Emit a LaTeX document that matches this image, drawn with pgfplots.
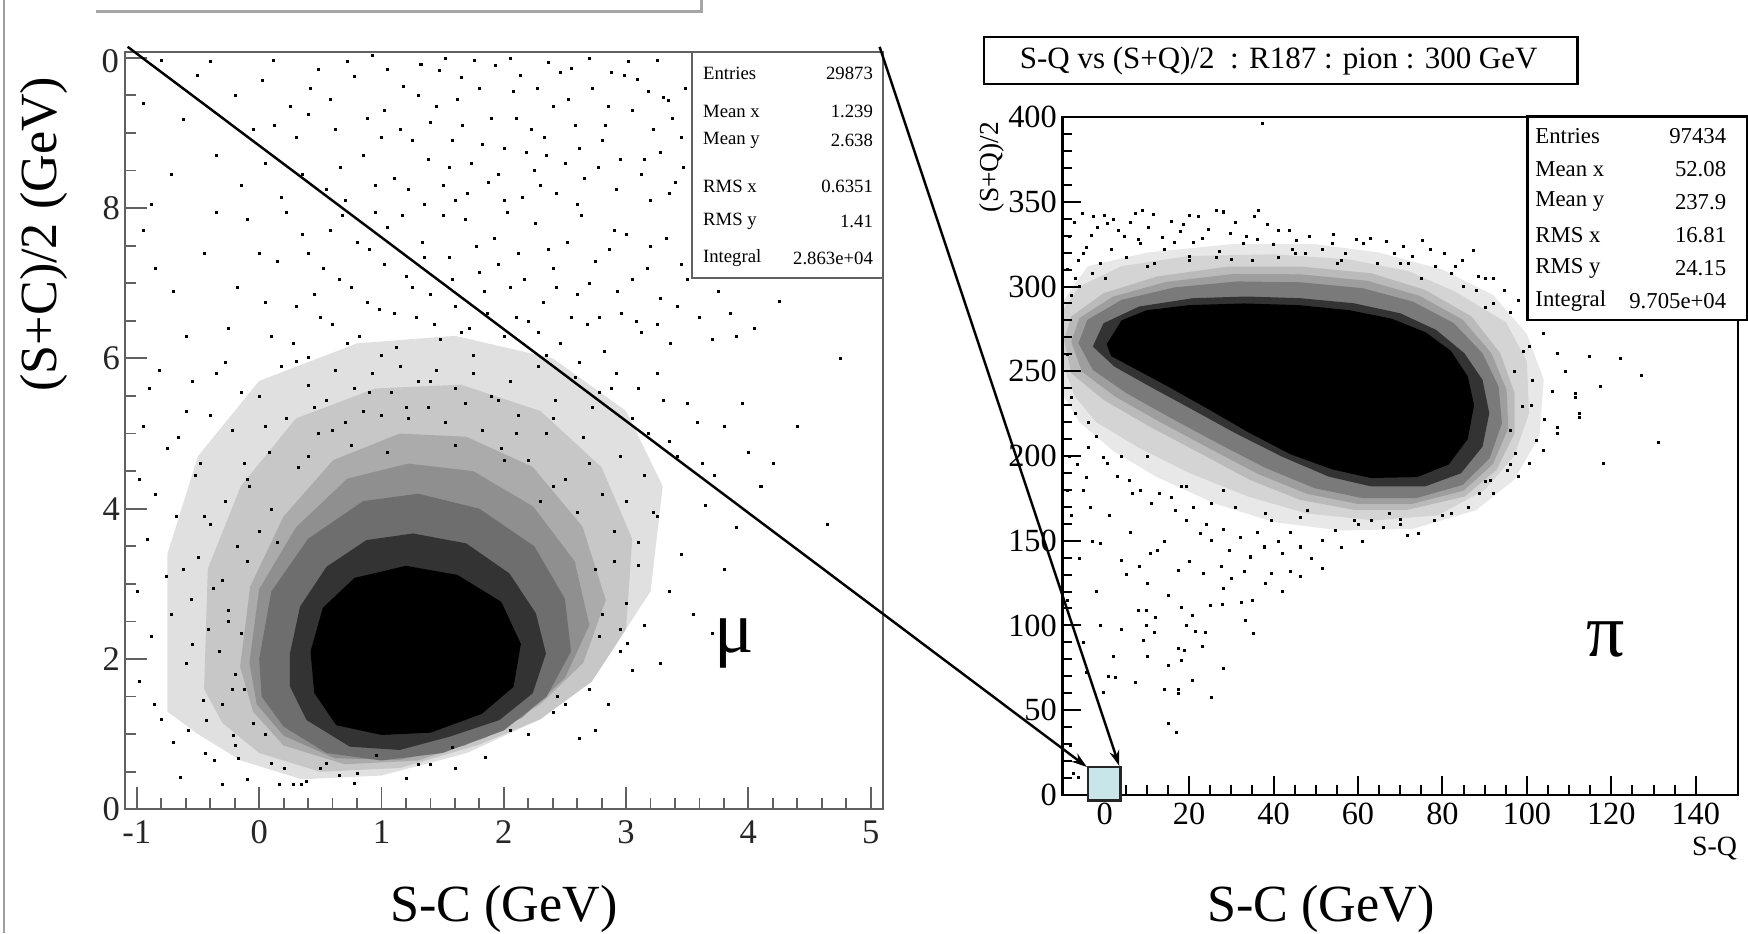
\documentclass[border=0pt]{standalone}
\usepackage{fontspec}
\setmainfont{Liberation Serif}
\usepackage{pgfplots}
\pgfplotsset{compat=1.18}
\usetikzlibrary{arrows.meta}
\definecolor{framegray}{gray}{0.38}
\definecolor{zoomcyan}{RGB}{200,230,234}
\newcommand{\fs}[1]{\fontsize{#1}{#1}\selectfont}
\begin{document}
\begin{tikzpicture}
\useasboundingbox (0,0) rectangle (784pt,418.5pt);
% ---------------- left plot (mu) ----------------
\begin{axis}[at={(55.9pt,55.5pt)}, anchor=south west, scale only axis,
  width=340.1pt, height=339.8pt,
  xmin=-1.1, xmax=5.1, ymin=0, ymax=10.08,
  xtick={-1,0,1,2,3,4,5}, xticklabels={-1,0,1,2,3,4,5},
  ytick={0,2,4,6,8,10}, yticklabels={0,2,4,6,8,{}},
  minor x tick num=4, minor y tick num=3,
  tick align=inside, xtick pos=left, ytick pos=left,
  major tick length=10pt, minor tick length=5pt,
  axis line style={framegray, line width=0.9pt},
  every tick/.style={framegray, line width=0.8pt},
  tick label style={font=\fs{15.5}, text=black!85},
  xticklabel style={yshift=-1.5pt}, yticklabel style={xshift=1.4pt},
  /pgf/number format/assume math mode=true,
  axis on top]
\addplot[fill=black!12, draw=none] coordinates {(-0.75,1.3)(-0.75,3.4)(-0.5,4.7)(0.0,5.7)(0.8,6.2)(1.6,6.3)(2.4,6.0)(3.0,5.3)(3.3,4.3)(3.2,2.9)(2.8,1.9)(2.3,1.2)(1.7,0.75)(1.0,0.45)(0.35,0.4)(-0.15,0.65)(-0.5,1.0)} -- cycle;
\addplot[fill=black!22, draw=none] coordinates {(-0.45,1.6)(-0.42,3.2)(-0.15,4.3)(0.3,5.2)(0.95,5.6)(1.65,5.65)(2.3,5.3)(2.8,4.55)(3.05,3.6)(3.0,2.4)(2.72,1.7)(2.3,1.2)(1.78,0.85)(1.15,0.55)(0.5,0.5)(0.0,0.75)(-0.3,1.15)} -- cycle;
\addplot[fill=black!33, draw=none] coordinates {(-0.156,1.898)(-0.074,2.962)(0.198,3.893)(0.605,4.646)(1.149,5.0)(1.693,4.957)(2.236,4.557)(2.644,3.76)(2.834,2.784)(2.65,1.95)(2.3,1.4)(1.85,0.95)(1.3,0.65)(0.7,0.6)(0.2,0.85)(-0.05,1.3)} -- cycle;
\addplot[fill=black!44, draw=none] coordinates {(-0.08,1.95)(0.0,2.93)(0.3,3.75)(0.72,4.4)(1.22,4.6)(1.75,4.5)(2.24,4.03)(2.58,3.3)(2.7,2.45)(2.5,1.75)(2.15,1.22)(1.68,0.85)(1.15,0.66)(0.62,0.68)(0.2,0.98)(-0.02,1.4)} -- cycle;
\addplot[fill=black!57, draw=none] coordinates {(0.0,2.0)(0.1,2.9)(0.4,3.6)(0.85,4.1)(1.3,4.2)(1.8,4.0)(2.25,3.5)(2.5,2.8)(2.55,2.1)(2.35,1.5)(2.0,1.05)(1.5,0.75)(1.0,0.65)(0.55,0.75)(0.2,1.1)(0.02,1.5)} -- cycle;
\addplot[fill=black!80, draw=none] coordinates {(0.252,2.075)(0.334,2.696)(0.551,3.228)(0.877,3.582)(1.258,3.671)(1.693,3.538)(2.046,3.139)(2.263,2.607)(2.345,2.075)(2.236,1.543)(1.964,1.188)(1.557,0.967)(1.149,0.79)(0.741,0.834)(0.388,1.188)(0.252,1.632)} -- cycle;
\addplot[fill=black, draw=none] coordinates {(0.42,2.1)(0.52,2.68)(0.78,3.08)(1.2,3.24)(1.62,3.12)(1.98,2.76)(2.14,2.2)(2.08,1.63)(1.82,1.27)(1.4,1.02)(1.0,0.99)(0.63,1.12)(0.45,1.55)} -- cycle;
\addplot[only marks, mark=square*, mark size=0.45pt, mark options={line width=0.1pt}] coordinates {
(-0.80,9.97)(-0.51,9.77)(-0.62,9.18)(-0.35,8.70)(-0.88,8.05)(0.11,9.97)(0.25,9.35)(0.42,9.60)(0.05,8.60)(0.30,8.95)
(0.55,8.25)(0.62,9.05)(0.78,9.75)(0.92,10.03)(0.85,8.70)(1.02,9.30)(1.10,8.40)(1.18,9.62)(1.32,9.92)(1.25,8.90)
(1.40,9.15)(1.47,9.83)(1.55,8.55)(1.62,9.45)(1.65,9.74)(1.70,8.20)(1.76,9.97)(1.82,8.85)(1.90,9.20)(1.95,8.45)
(2.05,10.00)(2.08,9.55)(2.13,9.77)(2.18,8.75)(2.22,9.05)(2.30,8.30)(2.36,9.94)(2.40,9.35)(2.46,9.81)(2.50,8.60)
(2.55,9.86)(2.58,9.10)(2.66,8.40)(2.72,9.60)(2.80,8.90)(2.88,9.81)(2.92,8.25)(2.98,9.77)(3.05,9.30)(3.09,9.72)
(3.15,8.65)(3.22,9.05)(3.25,9.97)(3.30,9.48)(3.34,9.43)(3.40,8.35)(3.45,8.95)(3.48,9.60)(0.18,8.15)(0.70,8.10)
(1.35,8.05)(2.00,8.10)(2.60,8.05)(3.20,8.10)(-0.20,9.50)(-0.05,9.05)(0.48,9.85)(1.00,8.95)(1.50,8.30)(2.25,8.50)
(2.85,9.35)(3.35,8.20)
(-0.95,9.40)(-0.72,8.45)(-0.40,9.95)(-0.15,8.30)(0.02,9.70)(0.12,9.10)(0.35,8.45)(0.58,9.45)(0.66,8.55)(0.72,9.95)
(0.88,9.20)(0.95,8.30)(1.05,9.85)(1.15,9.05)(1.22,8.25)(1.30,9.50)(1.38,8.65)(1.45,9.35)(1.52,10.0)(1.58,8.90)
(1.66,9.10)(1.73,8.60)(1.80,9.60)(1.87,8.35)(1.93,9.90)(2.00,8.80)(2.10,9.20)(2.15,8.15)(2.27,9.60)(2.33,8.95)
(2.43,8.20)(2.53,9.45)(2.62,8.80)(2.70,10.0)(2.77,8.55)(2.83,9.10)(2.95,8.65)(3.02,9.95)(3.12,8.45)(3.18,9.55)
(3.28,8.75)(3.38,9.20)(3.47,8.55)(0.40,9.25)(1.60,8.10)(2.35,8.70)
(-0.95,7.70)(-0.70,6.90)(-0.45,7.40)(-0.25,6.40)(-0.10,7.85)(0.05,6.75)(0.15,7.30)(0.28,6.20)(0.35,7.65)(0.45,6.85)
(0.52,7.20)(0.60,6.45)(0.68,7.90)(0.75,6.95)(0.82,6.30)(0.90,7.45)(0.98,6.65)(1.05,7.75)(1.12,6.15)(1.20,7.10)
(1.28,6.55)(1.33,7.55)(1.40,6.85)(1.48,6.25)(1.55,7.35)(1.60,6.70)(1.68,7.85)(1.72,6.40)(1.80,7.15)(1.86,6.60)
(1.92,7.60)(2.00,6.30)(2.05,6.95)(2.12,7.40)(2.20,6.50)(2.26,7.80)(2.32,6.75)(2.40,7.20)(2.46,6.20)(2.52,7.55)
(2.60,6.85)(2.68,6.45)(2.75,7.30)(2.82,6.10)(2.90,7.70)(2.96,6.60)(3.05,7.05)(3.12,6.35)(3.20,7.50)(3.28,6.80)
(3.36,6.20)(3.45,7.25)(3.60,6.55)(3.75,6.90)(3.90,6.30)(4.25,6.76)(4.75,6.00)(1.00,6.05)(1.75,6.05)(0.40,6.02)(2.35,6.05)
(-0.85,7.20)(-0.60,6.30)(-0.35,7.95)(-0.18,6.95)(0.00,7.40)(0.10,6.30)(0.22,7.95)(0.30,6.70)(0.40,7.40)(0.50,6.55)
(0.58,7.70)(0.65,7.05)(0.72,6.20)(0.80,7.55)(0.88,6.75)(0.95,7.95)(1.02,7.25)(1.10,6.60)(1.17,7.90)(1.25,6.95)
(1.35,7.35)(1.43,6.45)(1.50,7.90)(1.58,7.05)(1.65,6.35)(1.77,7.50)(1.84,6.90)(1.95,7.25)(2.03,7.95)(2.10,6.55)
(2.17,7.05)(2.28,6.35)(2.36,7.45)(2.43,6.95)(2.55,6.55)(2.63,7.90)(2.70,7.00)(2.78,6.55)(2.86,7.45)(2.93,6.90)
(3.00,7.65)(3.08,6.50)(3.17,7.20)(3.25,6.45)(3.33,7.60)(3.42,6.70)(3.50,7.05)(3.70,6.25)(3.85,6.60)(4.05,6.40)
(-0.90,5.60)(-0.75,4.80)(-0.60,5.30)(-0.48,4.60)(-0.35,5.80)(-0.22,5.05)(-0.10,4.40)(0.00,5.50)(0.08,4.75)(0.18,5.90)
(0.22,5.20)(0.32,4.55)(0.40,5.65)(0.48,5.00)(0.55,5.45)(0.62,5.85)(0.70,5.15)(0.78,5.60)(0.85,5.30)(0.92,5.80)
(1.00,5.25)(1.08,5.55)(1.15,5.90)(1.22,5.20)(1.30,5.70)(1.38,5.35)(1.45,5.85)(1.52,5.15)(1.60,5.60)(1.68,5.40)
(1.75,5.80)(1.82,5.05)(1.90,5.50)(1.98,4.80)(2.05,5.70)(2.12,5.25)(2.20,4.65)(2.28,5.90)(2.35,5.00)(2.42,5.45)
(2.50,4.40)(2.58,5.75)(2.65,4.95)(2.72,5.35)(2.80,4.20)(2.88,5.60)(2.95,4.70)(3.05,5.20)(3.15,4.45)(3.25,5.80)
(3.35,4.90)(3.50,5.40)(3.62,4.60)(3.80,5.10)(4.00,4.75)(4.64,3.80)(3.25,3.90)
(-0.98,4.40)(-0.82,5.85)(-0.66,4.95)(-0.55,5.70)(-0.40,5.25)(-0.28,5.95)(-0.15,5.55)(0.30,5.97)(2.62,5.95)(2.78,5.55)
(2.92,5.80)(3.10,5.60)(3.18,5.00)(3.30,5.45)(3.42,4.70)(3.58,5.15)(3.72,4.45)(3.95,5.40)(4.20,4.60)(4.40,5.10)
(-0.55,2.20)(-0.62,3.20)(-0.45,3.90)(-0.30,1.40)(-0.38,2.95)(-0.12,4.60)(0.05,5.10)(0.45,5.35)(0.90,5.55)(1.40,5.70)
(1.95,5.45)(2.40,5.20)(2.70,4.60)(3.00,4.10)(3.10,3.25)(2.95,2.40)(2.70,1.60)(2.20,1.00)(1.60,0.55)(0.80,0.48)
(0.20,0.55)(-0.20,1.80)(0.60,5.05)(1.20,5.35)(2.10,5.00)(2.90,3.70)
(-0.25,2.50)(-0.10,3.30)(0.10,4.00)(0.40,4.70)(0.75,4.85)(1.05,4.75)(1.60,4.85)(2.00,4.65)(2.40,4.30)(2.60,3.95)
(2.75,3.20)(2.78,2.30)(2.50,1.40)(2.05,1.05)(1.30,0.60)(0.55,0.62)(0.05,1.00)(-0.12,1.60)(0.15,3.55)(2.30,4.10)
(-1.00,2.90)(-0.98,1.70)(-0.92,3.60)(-0.88,2.30)(-0.85,4.20)(-0.80,1.20)(-0.76,3.10)(-0.72,2.60)(-0.68,3.90)(-0.65,0.43)
(-0.60,1.95)(-0.56,2.80)(-0.52,4.45)(-0.50,3.35)(-0.46,1.45)(-0.42,2.40)(-0.40,3.80)(-0.43,1.19)(-0.33,2.10)(-0.30,3.05)
(-0.28,4.10)(-0.25,2.65)(-0.22,1.60)(-0.20,0.85)(-0.18,3.50)(-0.15,2.35)(-0.30,0.33)(-0.08,4.30)(-0.05,1.15)(0.00,3.70)
(-0.95,5.10)(-0.70,0.90)(-0.86,1.40)(-0.58,1.05)(-0.44,0.75)(-0.10,0.40)
(0.16,0.33)(0.28,0.33)(0.34,0.34)(0.38,0.38)(0.78,0.35)(0.96,0.72)(1.58,0.83)(0.50,0.55)(0.10,0.62)(0.65,0.45)
(1.20,0.42)(1.40,0.60)(1.85,0.70)(-0.21,0.99)(-0.37,0.66)(-0.17,0.68)
(2.85,1.40)(2.95,2.10)(3.00,2.75)(3.05,1.85)(2.90,3.30)(3.10,3.55)(3.15,2.45)(3.22,3.95)(3.28,1.95)(3.35,2.90)
(3.45,3.40)(3.55,2.60)(3.65,4.05)(3.80,3.20)(2.75,1.05)(2.62,0.95)(2.44,1.50)(2.40,1.30)(3.70,2.35)(3.01,2.21)
(2.80,2.60)(3.90,3.75)(4.10,4.30)};
\end{axis}
% ---------------- right plot (pi) ----------------
\begin{axis}[at={(476.5pt,62pt)}, anchor=south west, scale only axis,
  width=303pt, height=304pt,
  xmin=-10, xmax=150, ymin=0, ymax=400,
  xtick={0,20,40,60,80,100,120,140}, xticklabels={0,20,40,60,80,100,120,140},
  ytick={0,50,100,150,200,250,300,350,400}, yticklabels={0,50,100,150,200,250,300,350,400},
  minor x tick num=3, minor y tick num=4,
  tick align=inside, xtick pos=left, ytick pos=left,
  major tick length=8.5pt, minor tick length=4.2pt,
  axis line style={black, line width=1.1pt},
  every tick/.style={black, line width=0.9pt},
  tick label style={font=\fs{14.5}},
  yticklabel style={xshift=1pt},
  /pgf/number format/assume math mode=true,
  axis on top]
\addplot[fill=black!9, draw=none] coordinates {(-9.6,235)(-9.6,292)(-4,312)(10,320)(30,325)(50,325)(65,320)(80,310)(92,295)(100,272)(104,245)(103,212)(97,186)(88,168)(73,157)(56,156)(40,161)(26,172)(12,188)(2,203)(-6,220)} -- cycle;
\addplot[fill=black!17, draw=none] coordinates {(-9.6,252)(-9.6,287)(-6,300)(4,312)(20,318)(40,319)(58,316)(72,309)(83,297)(95,279)(100,256)(100.5,225)(97,200)(90,180)(79,165)(64,162)(48,166)(34,176)(20,190)(8,205)(-2,220)(-7,235)} -- cycle;
\addplot[fill=black!27, draw=none] coordinates {(-9.6,268.5)(-7.9,282.3)(-0.27,296.0)(12.4,305.9)(29.4,311.8)(46.3,311.8)(63.2,307.8)(75.9,298.0)(86.9,282.3)(93.7,260.6)(97.1,237.0)(97.1,213.4)(92.8,191.8)(85.2,176.0)(71.7,168.2)(59.0,168.2)(46.3,174.1)(34.4,185.9)(22.6,201.6)(10.7,217.3)(-0.27,233.1)(-7.9,248.8)} -- cycle;
\addplot[fill=black!38, draw=none] coordinates {(-7.9,267.5)(-6,281.3)(1.9,294)(14.5,302.7)(30.5,307.4)(46.3,307.2)(62.2,303.4)(74.5,294.6)(84.8,280.4)(91.6,260.6)(95.2,239)(95.6,216.4)(92,195.3)(85,179.5)(72.8,171.7)(60,171.7)(48,177.6)(36.3,189.4)(24.7,204.6)(13.3,219.8)(2.5,235)(-5.4,249.8)} -- cycle;
\addplot[fill=black!52, draw=none] coordinates {(-6.2,266.5)(-4.1,280.3)(4.0,292.1)(16.6,299.5)(31.5,303.0)(46.3,302.5)(61.1,299.0)(73.0,291.1)(82.7,278.4)(89.5,260.6)(93.3,241.0)(94.1,219.3)(91.2,198.7)(84.8,182.9)(73.8,175.1)(61.1,175.1)(49.7,181.0)(38.2,192.8)(26.8,207.5)(15.8,222.2)(5.2,237.0)(-2.8,250.8)} -- cycle;
\addplot[fill=black!80, draw=none] coordinates {(-2.8,264.6)(-0.27,278.3)(8.2,288.2)(20.9,293.1)(33.6,294.1)(46.3,293.1)(59.0,290.1)(70.0,284.2)(78.5,274.4)(85.2,260.6)(89.5,244.9)(91.1,225.2)(89.5,205.5)(84.4,189.8)(75.9,182.0)(63.2,182.0)(53.1,187.8)(42.0,199.6)(31.0,213.4)(20.9,227.2)(10.7,241.0)(2.27,252.8)} -- cycle;
\addplot[fill=black, draw=none] coordinates {(0.5,266)(4,280)(10,286)(20,289)(33,290)(46,289)(58,286)(68,281)(76,273)(82,262)(86,247)(87.5,230)(86,210)(81.5,195)(74,187.5)(63,187)(54,192)(44,201)(34,214)(25,227)(15,241)(6,253)(1.5,259)} -- cycle;
\addplot[only marks, mark=square*, mark size=0.45pt, mark options={line width=0.1pt}] coordinates {
(37.2,396.3)
(-5.3,343.6)(-2.7,341.3)(-0.06,342.2)(0.5,337.3)(7.3,343.2)(8.9,345.2)(15.8,338.3)(20.0,342.2)(22.2,341.3)(26.4,345.2)
(28.0,344.2)(35.4,341.3)(36.4,345.2)(41.2,333.4)(43.8,333.4)(45.4,327.5)(-3.2,330.4)(3.1,333.4)(8.4,325.5)(13.7,329.4)
(17.9,332.4)(23.2,328.5)(29.6,331.4)(32.7,325.5)(53.9,325.5)(61.3,325.5)(62.9,328.5)(66.6,326.5)(70.8,323.6)(75.1,327.5)
(92.0,304.9)(84.6,315.7)(87.2,321.6)(80.3,319.6)(78.2,311.8)(-4.3,323.5)(-6.4,315.7)(-6.9,304.9)(-1.1,313.7)(5.2,317.6)
(11.6,313.7)(20.0,315.7)(26.4,317.6)(34.9,315.7)(41.2,317.6)(47.5,319.6)(56.0,315.7)(64.5,313.7)(71.9,313.7)
(85,300)(92,290)(96,285)(90,305)(82,308)
(-8.5,330)(-7.2,338)(-1.8,335)(2.0,340)(4.5,330)(6.0,338)(10.2,335)(11.5,343)(14.0,322)(18.5,337)
(21.0,326)(24.5,334)(27.0,321)(31.0,338)(33.5,330)(38.5,337)(39.8,325)(44.5,322)(48.5,330)(51.5,322)
(57.0,320)(59.5,328)(68.5,320)(72.8,318)(77.0,322)(83.0,312)(88.5,306)(94.5,298)(98.0,292)(100,284)
(-8.8,310)(-5.0,320)(-3.0,308)(1.5,322)(8.0,328)(16.5,326)(36.0,328)(54.0,331)
(-8,295)(0,305)(20,318)(45,320)(70,314)(88,298)(99,262)(101,230)(96,195)(80,165)(60,160)(38,166)(18,182)(4,200)(-8,235)
(-6,300)(10,312)(30,316)(55,314)(75,305)(90,288)(97,250)(96,215)(90,185)(70,163)(48,168)(28,180)(10,200)(-4,220)(-9,260)
(103.8,272.4)(100.5,264.6)(107.2,260.6)(114.8,258.7)(111.5,237.0)(117.4,241.0)(112.3,225.2)(107.2,217.3)(107.2,213.4)(103.8,203.6)
(102.1,209.5)(98.8,229.2)(101.3,244.9)(97.1,201.6)(95.4,191.8)(88.6,178.0)(91.2,185.9)(111.4,235.0)(112.4,223.0)(122,258)
(127,248)(131,208)(118,196)
(-8.8,180)(-6.5,195)(-4.0,205)(-2.0,212)(0.5,196)(3.0,188)(8.5,180)(11.0,172)(13.0,178)(21.0,170)
(24.0,160)(28.0,157)(32.0,152)(36.0,155)(41.0,150)(44.0,155)(49.0,140)(56.0,146)(61.0,150)(66.0,158)
(70.0,160)(78.0,162)(82.0,166)(86.0,170)(92.0,178)(98.0,188)(100.5,196)(104.0,222)(106.0,238)(109.0,250)
(20.0,138)(14.0,150)(6.0,155)(1.0,165)(-3.5,170)(33.0,132)(38.0,125)(44.0,132)(25.0,112)(12.0,105)
(4.0,98)(2.0,82)(23.0,88)(28.0,75)(10.0,82)(-1.0,100)(-5.0,90)
(-4.5,187.8)(5.7,185.9)(-0.3,199.6)(6.5,178.0)(15.8,176.0)(16.7,168.2)(19.2,162.3)(22.6,154.4)(25.1,150.5)(29.4,144.6)
(34.4,140.6)(37.8,146.5)(42.0,142.6)(46.3,146.5)(51.4,150.5)(54.7,156.4)(59.0,162.3)(63.2,162.3)(67.4,166.2)(71.7,153.4)
(74.2,154.4)(27.7,134.7)(23.4,130.8)(12.4,144.6)(8.2,134.7)(3.96,138.7)(-1.1,148.5)(10.7,142.6)(17.5,132.8)(39.5,130.8)
(46.3,128.8)(51.4,133.7)(19.2,182.0)(25.1,172.1)(31.0,170.1)(39.5,162.3)(46.3,164.2)
(10,125)(15,118)(28,122)(35,115)(42,120)(5,130)(30,128)
(-8.5,200)(-7,225)(-5,180)(-8,165)(-3,150)(-6,140)(-9,115)(-2,120)
(7.9,109.1)(9.8,109.1)(9.8,100.2)(11.8,96.3)(9.2,91.4)(18.2,111.0)(20.7,106.1)(19.4,100.2)(21.4,96.9)(23.9,96.3)
(27.8,112.6)(32.3,114.0)(33.2,103.2)(35.1,95.7)(17.5,86.5)(18.8,85.5)(18.2,79.6)(15.0,76.6)(20.7,67.8)(14.1,62.3)
(17.5,62.3)(17.5,59.9)(7.3,66.8)(0.86,70.1)(2.4,69.4)(-0.3,60.5)(25.2,57.6)(15.0,42.2)(16.9,36.9)(-7.5,12.7)
(-6.2,10.7)(-8.1,29.4)(-4.3,72.7)};
\end{axis}
% ---------------- annotations (units: reference pixels, y downwards) ----------------
\begin{scope}[x=0.5pt, y=-0.5pt, shift={(0pt,418.5pt)}]
\draw[gray!75, line width=1pt] (3.7,0) -- (3.7,837);
\draw[gray!70, line width=1.2pt] (86,10.5) -- (629,10.5) -- (629,0);
% clipped top tick label of left plot
\begin{scope}
\clip (92,30) rectangle (115,80);
\node[anchor=east, inner sep=0pt, font=\fs{15.5}, text=black!85] at (107,55) {10};
\end{scope}
% left stats box
\draw[fill=white, draw=framegray, line width=0.8pt] (620.5,46.4) rectangle (792,249.6);
\begin{scope}[font=\fs{8.4}]
\node[anchor=west, inner sep=0pt] at (630.3,65.8) {Entries};
\node[anchor=west, inner sep=0pt] at (630.3,100.2) {Mean x};
\node[anchor=west, inner sep=0pt] at (630.3,125.6) {Mean y};
\node[anchor=west, inner sep=0pt] at (630.3,167.5) {RMS x};
\node[anchor=west, inner sep=0pt] at (630.3,198.8) {RMS y};
\node[anchor=west, inner sep=0pt] at (630.3,231.7) {Integral};
\node[anchor=east, inner sep=0pt] at (783.4,65.8) {29873};
\node[anchor=east, inner sep=0pt] at (783.4,100.2) {1.239};
\node[anchor=east, inner sep=0pt] at (783.4,125.6) {2.638};
\node[anchor=east, inner sep=0pt] at (783.4,167.5) {0.6351};
\node[anchor=east, inner sep=0pt] at (783.4,198.8) {1.41};
\node[anchor=east, inner sep=0pt] at (783.4,231.7) {2.863e+04};
\end{scope}
% right title box
\draw[fill=white, line width=1pt] (882.6,33.5) rectangle (1415,75.4);
\node[font=\fs{13.9}, inner sep=0pt] at (1147,54.6) {S-Q vs (S+Q)/2\ \ : R187 : pion : 300 GeV};
% right stats box
\draw[fill=white, draw=black, line width=1.1pt] (1370,104.7) rectangle (1567,287);
\begin{scope}[font=\fs{10.2}]
\node[anchor=west, inner sep=0pt] at (1376.9,122) {Entries};
\node[anchor=west, inner sep=0pt] at (1376.9,151.6) {Mean x};
\node[anchor=west, inner sep=0pt] at (1376.9,181.2) {Mean y};
\node[anchor=west, inner sep=0pt] at (1376.9,210.8) {RMS x};
\node[anchor=west, inner sep=0pt] at (1376.9,240.4) {RMS y};
\node[anchor=west, inner sep=0pt] at (1376.9,270) {Integral};
\node[anchor=east, inner sep=0pt] at (1548.8,122) {97434};
\node[anchor=east, inner sep=0pt] at (1548.8,151.6) {52.08};
\node[anchor=east, inner sep=0pt] at (1548.8,181.2) {237.9};
\node[anchor=east, inner sep=0pt] at (1548.8,210.8) {16.81};
\node[anchor=east, inner sep=0pt] at (1548.8,240.4) {24.15};
\node[anchor=east, inner sep=0pt] at (1548.8,270) {9.705e+04};
\end{scope}
% axis titles
\node[font=\fs{23.4}, inner sep=0pt] at (452,815) {S-C (GeV)};
\node[font=\fs{23.4}, inner sep=0pt] at (1185,815) {S-C (GeV)};
\node[font=\fs{23.4}, inner sep=0pt, rotate=90] at (39,210) {(S+C)/2 (GeV)};
\node[font=\fs{12.5}, inner sep=0pt, anchor=east] at (1558.6,761.5) {S-Q};
\node[font=\fs{12.3}, inner sep=0pt, rotate=90, anchor=east] at (889.6,109) {(S+Q)/2};
\node[font=\fs{33}, inner sep=0pt] at (659,577) {μ};
\node[font=\fs{34}, inner sep=0pt] at (1440,574) {π};
% zoom box and arrows
\draw[fill=zoomcyan, draw=black!85, line width=1pt] (976,688) rectangle (1005,718);
\draw[line width=1.1pt, -{Stealth[length=7pt,width=4.5pt]}] (114.5,42) -- (975,688);
\draw[line width=1.1pt, -{Stealth[length=7pt,width=4.5pt]}] (789,42) -- (1004,687);
\end{scope}
\end{tikzpicture}
\end{document}
